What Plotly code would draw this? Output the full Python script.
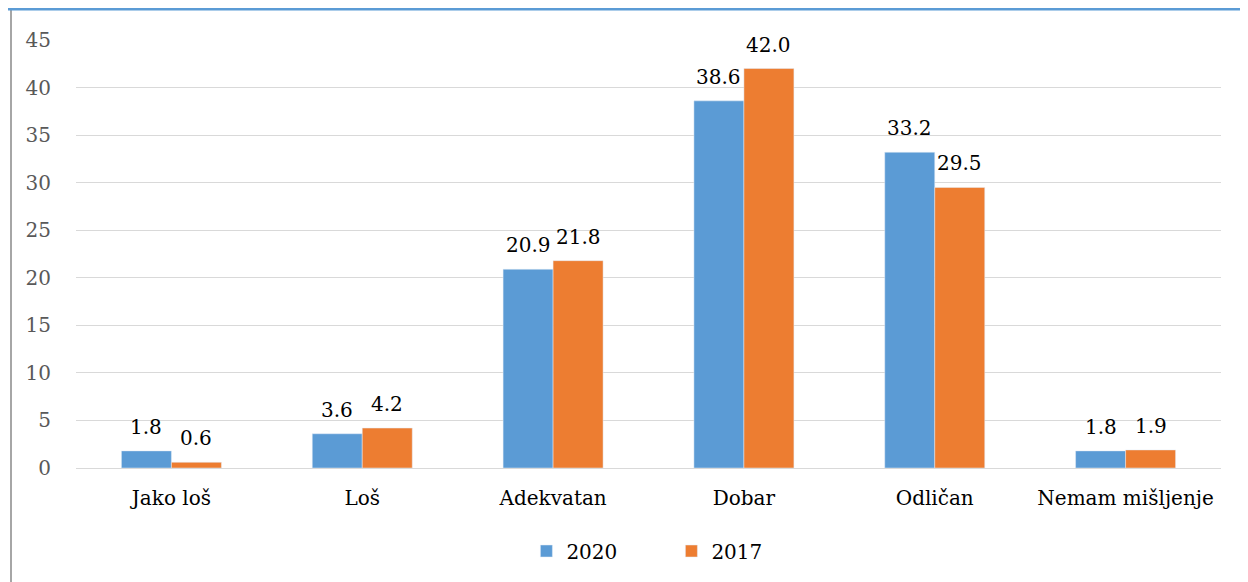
import plotly.graph_objects as go

categories = ["Jako loš", "Loš", "Adekvatan", "Dobar", "Odličan", "Nemam mišljenje"]
values_2020 = [1.8, 3.6, 20.9, 38.6, 33.2, 1.8]
values_2017 = [0.6, 4.2, 21.8, 42.0, 29.5, 1.9]
tick_vals = [0, 5, 10, 15, 20, 25, 30, 35, 40, 45]

FONT = "DejaVu Serif"
BARGAP = 0.476

# page has an 8px body margin, so work in figure coords offset by 8px
OFF = 8
W, H = 1248 - OFF, 582 - OFF
L, R, T, B = 76 - OFF, 27, 40 - OFF, 114

fig = go.Figure()
fig.add_trace(go.Bar(name="2020", x=categories, y=values_2020, marker_color="#5B9BD5"))
fig.add_trace(go.Bar(name="2017", x=categories, y=values_2017, marker_color="#ED7D31"))

# data labels as annotations above each bar
half = (1 - BARGAP) / 4
annotations = []
for series, dx in ((values_2020, -half), (values_2017, half)):
    for i, v in enumerate(series):
        annotations.append(dict(
            x=i + dx, y=v, xref="x", yref="y", text=f"{v:.1f}", showarrow=False,
            yanchor="bottom", yshift=10,
            font=dict(family=FONT, size=20, color="#000000"),
        ))

pw = W - L - R
ph = H - T - B

def px_x(p):
    return (p - OFF - L) / pw

def px_y(p):
    return (H - B - (p - OFF)) / ph

fig.update_layout(
    width=W, height=H,
    margin=dict(l=L, r=R, t=T, b=B),
    paper_bgcolor="white", plot_bgcolor="white",
    barmode="group", bargap=BARGAP, bargroupgap=0,
    font=dict(family=FONT, color="#000000"),
    annotations=annotations,
    legend=dict(
        orientation="h", x=0.52, xanchor="center", y=px_y(551), yanchor="middle",
        font=dict(family=FONT, size=20, color="#000000"),
        entrywidth=100, entrywidthmode="pixels",
    ),
    xaxis=dict(
        showgrid=False, showline=True, linecolor="#D9D9D9", linewidth=1,
        tickfont=dict(family=FONT, size=20, color="#000000"), ticks="",
        ticklabelstandoff=12,
    ),
    yaxis=dict(
        range=[0, 45], tickvals=tick_vals, showgrid=True, gridcolor="#D9D9D9",
        gridwidth=1, zeroline=False, showline=False,
        tickfont=dict(family=FONT, size=20, color="#595959"), ticks="",
        ticklabelstandoff=24,
    ),
    shapes=[
        dict(type="line", xref="paper", yref="paper",
             x0=px_x(11), x1=px_x(11), y0=px_y(10), y1=px_y(582),
             line=dict(color="#A6A6A6", width=2)),
        dict(type="line", xref="paper", yref="paper",
             x0=px_x(8), x1=px_x(1248), y0=px_y(9), y1=px_y(9),
             line=dict(color="#5B9BD5", width=3)),
    ],
)

fig.write_html("out.html")
